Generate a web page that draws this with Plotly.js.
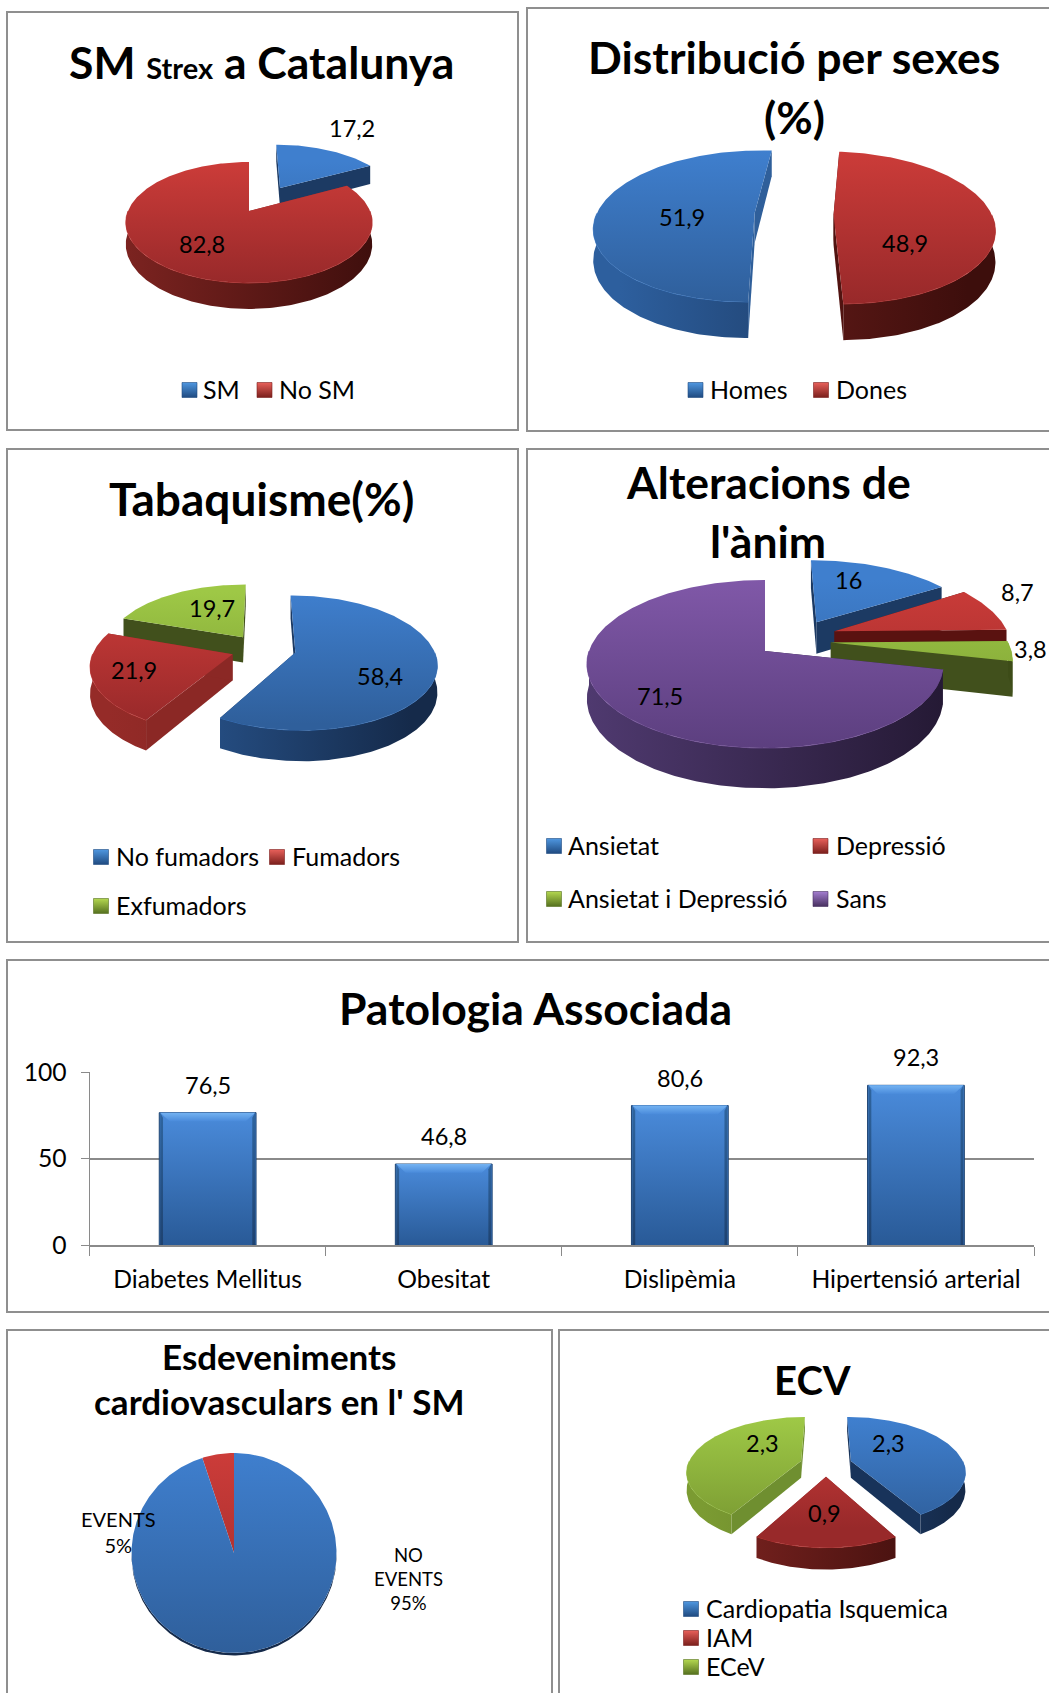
<!DOCTYPE html>
<html>
<head>
<meta charset="utf-8">
<title>Síndrome metabòlica</title>
<script src="https://cdn.plot.ly/plotly-3.0.1.min.js"></script>
<style>html,body{margin:0;padding:0;background:#fff;overflow:hidden}#page{width:1049px;height:1693px}</style>
</head>
<body>
<div id="page"></div>
<script>
// Values shown on each chart
const smLabels = ['SM', 'No SM'];
const smValues = [17.2, 82.8];
const sexLabels = ['Homes', 'Dones'];
const sexValues = [51.9, 48.9];
const smokeLabels = ['No fumadors', 'Fumadors', 'Exfumadors'];
const smokeValues = [58.4, 21.9, 19.7];
const moodLabels = ['Ansietat', 'Depressió', 'Ansietat i Depressió', 'Sans'];
const moodValues = [16, 8.7, 3.8, 71.5];
const pathologyLabels = ['Diabetes Mellitus', 'Obesitat', 'Dislipèmia', 'Hipertensió arterial'];
const pathologyValues = [76.5, 46.8, 80.6, 92.3];
const eventLabels = ['NO EVENTS', 'EVENTS'];
const eventValues = [95, 5];
const cvdLabels = ['Cardiopatia Isquemica', 'IAM', 'ECeV'];
const cvdValues = [2.3, 0.9, 2.3];

const FONT = 'Lato, "Open Sans", sans-serif';
const TEXT_SIZE = 23.5;
const LEGEND_SIZE = 25;
const AXIS_SIZE = 24.7;
const TITLE_SIZE = 44.5;

// Shading of the tilted slices
const palette = {
  blue:   {top: ['#3f7fce', '#2f5f9b'], rim: ['#2d5f9e', '#152a4a'], wall: '#1c3a63'},
  red:    {top: ['#cc3c39', '#98292a'], rim: ['#7e2421', '#3d0e0c'], wall: '#8b2825'},
  green:  {top: ['#9ec846', '#7a9a32'], rim: ['#7b9b32', '#3d4c18'], wall: '#41501c'},
  purple: {top: ['#8058a8', '#5c3f7f'], rim: ['#513b72', '#231832'], wall: '#2d2140'}
};
const swatch = {
  blue: ['#4f97e0', '#1f4a80'], red: ['#e8605a', '#7a1f1c'],
  green: ['#b4d850', '#55701f'], purple: ['#a47ed0', '#47305f']
};

const rad = d => d * Math.PI / 180;
const decimal = v => String(v).replace('.', ',');
const traces = [];
const annotations = [];

function addPoly(pts, fill, gradient) {
  const t = {
    x: pts.map(p => p[0]), y: pts.map(p => p[1]),
    xaxis: 'x', yaxis: 'y', type: 'scatter', mode: 'lines',
    line: {width: 0}, fill: 'toself', hoverinfo: 'skip', showlegend: false
  };
  if (gradient) t.fillgradient = gradient;
  else t.fillcolor = fill;
  traces.push(t);
}

// Slices on a disc seen in perspective: angles come from the values, clockwise from 12 o'clock.
function addTiltedPie(values, colors, p) {
  const total = values.reduce((a, b) => a + b, 0);
  const nearY = p.cy + p.ry / (1 - p.k), farY = p.cy - p.ry / (1 + p.k);
  let angle = p.first || 0;
  const slices = values.map((val, i) => {
    const a0 = angle, a1 = angle + val / total * 360;
    angle = a1;
    const mid = rad((a0 + a1) / 2), e = p.explode[i];
    const ou = e * Math.sin(mid), ov = -e * Math.cos(mid);
    const nudge = (p.nudge && p.nudge[i]) || [0, 0];
    return {a0, a1, ou, ov, nudge, color: colors[i], depth: ov - 0.6 * Math.cos(mid)};
  }).sort((a, b) => a.depth - b.depth);

  slices.forEach(sl => {
    const project = (u, v, h) => {
      const s = 1 / (1 - p.k * v);
      return [p.cx + sl.nudge[0] + p.rx * u * s, p.cy + sl.nudge[1] + p.ry * v * s + h * p.d * s];
    };
    const at = (deg, h) => project(sl.ou + Math.sin(rad(deg)), sl.ov - Math.cos(rad(deg)), h);
    const apex = h => project(sl.ou, sl.ov, h);
    const arc = (from, to, h) => {
      const out = [], n = Math.max(2, Math.ceil(Math.abs(to - from)));
      for (let j = 0; j <= n; j++) out.push(at(from + (to - from) * j / n, h));
      return out;
    };
    const shade = palette[sl.color];
    const wall = (p.walls && p.walls[sl.color]) || shade.wall;
    const rim = (p.rims && p.rims[sl.color]) || shade.rim;

    if (p.d > 4) {
      [sl.a0, sl.a1].forEach(a => addPoly([apex(0), at(a, 0), at(a, 1), apex(1)], wall));
    }
    [0, 360].forEach(shift => {
      const from = Math.max(sl.a0, 90 + shift), to = Math.min(sl.a1, 270 + shift);
      if (to <= from) return;
      const face = arc(from, to, 0).concat(arc(to, from, 1));
      if (p.d > 4) {
        addPoly(face, null, {
          type: 'horizontal', start: p.cx - p.rx * 1.1, stop: p.cx + p.rx * 1.1,
          colorscale: [[0, rim[0]], [1, rim[1]]]
        });
        const edge = arc(from, to, 0);
        traces.push({
          x: edge.map(q => q[0]), y: edge.map(q => q[1]), xaxis: 'x', yaxis: 'y',
          type: 'scatter', mode: 'lines', line: {width: 1, color: shade.top[0]},
          opacity: 0.75, hoverinfo: 'skip', showlegend: false
        });
      } else {
        addPoly(face, rim[1]);
      }
    });
    const face = [apex(0)].concat(arc(sl.a0, sl.a1, 0));
    addPoly(face, null, {
      type: 'vertical', start: farY, stop: nearY,
      colorscale: [[0, shade.top[0]], [1, shade.top[1]]]
    });
  });
}

function addText(text, x, y, size, opts) {
  annotations.push(Object.assign({
    text, x, y, xref: 'x', yref: 'y', showarrow: false, borderpad: 0,
    xanchor: 'center', yanchor: 'middle',
    font: {family: FONT, size, color: '#000'}
  }, opts || {}));
}
const addTitle = (text, x, y, size) => addText('<b>' + text + '</b>', x, y, size || TITLE_SIZE);

// Value labels use the same numbers the slices are drawn from
function addValueLabels(values, places) {
  values.forEach((v, i) => addText(decimal(v), places[i][0], places[i][1], TEXT_SIZE));
}

// Bevelled legend squares with their text alongside
function addLegend(labels, colors, places) {
  traces.push({
    x: places.map(q => q[0]), y: places.map(q => q[2]), xaxis: 'x', yaxis: 'y',
    type: 'scatter', mode: 'markers', hoverinfo: 'skip', showlegend: false,
    marker: {
      symbol: 'square', size: 15, color: colors.map(c => swatch[c][0]),
      gradient: {type: 'vertical', color: colors.map(c => swatch[c][1])},
      line: {width: 0.6, color: colors.map(c => swatch[c][1])}
    }
  });
  labels.forEach((l, i) => addText(l, places[i][1] - 1, places[i][2] - 1, LEGEND_SIZE, {xanchor: 'left'}));
}

// --- SM Strex a Catalunya ---
addTiltedPie(smValues, ['blue', 'red'], {
  cx: 249, cy: 211, rx: 121, ry: 58.3, k: 0.19, d: 21, explode: [0.43, 0],
  nudge: [[6, -3], [0, 0]]
});
addValueLabels(smValues, [[352, 128], [202, 244]]);
addTitle('SM <span style="font-size:29px">Strex</span> a Catalunya', 261, 61);
addLegend(smLabels, ['blue', 'red'], [[189.5, 203, 390], [264.5, 279, 390]]);

// --- Distribució per sexes ---
addTiltedPie(sexValues, ['blue', 'red'], {
  cx: 794, cy: 214, rx: 158, ry: 73.8, k: 0.17, d: 30, first: 179.5, explode: [0.25, 0.25],
  walls: {blue: '#2f5f9a', red: '#511310'}
});
addValueLabels(sexValues, [[682, 217], [905, 243]]);
addTitle('Distribució per sexes', 794, 56);
addTitle('(%)', 794, 116);
addLegend(sexLabels, ['blue', 'red'], [[695.5, 710, 390], [821, 836, 390]]);

// --- Tabaquisme ---
addTiltedPie(smokeValues, ['blue', 'red', 'green'], {
  cx: 260, cy: 648, rx: 138, ry: 64.5, k: 0.15, d: 26, explode: [0.27, 0.27, 0.27],
  nudge: [[-1, 0], [8, 0], [4, 3]],
  rims: {red: ['#952b28', '#6f1f1c']}
});
addValueLabels(smokeValues, [[380, 676], [134, 670], [212, 608]]);
addTitle('Tabaquisme(%)', 261, 498, 46);
addLegend(smokeLabels, ['blue', 'red', 'green'], [[101, 116, 857], [277, 292, 857], [101, 116, 906]]);

// --- Alteracions de l'ànim ---
addTiltedPie(moodValues, ['blue', 'red', 'green', 'purple'], {
  cx: 765, cy: 651, rx: 176, ry: 82, k: 0.155, d: 34, explode: [0.55, 0.42, 0.43, 0],
  nudge: [[8, 8], [0, -10], [-10, -12], [0, 0]],
  walls: {red: '#5a1210'}
});
addValueLabels(moodValues, [[848, 580], [1017, 592], [1030, 649], [660, 696]]);
addTitle('Alteracions de', 768, 481);
addTitle("l'ànim", 768, 540);
addLegend(moodLabels, ['blue', 'red', 'green', 'purple'],
  [[554, 568, 846], [820.5, 836, 846], [554, 568, 899], [820.5, 836, 899]]);

// --- Patologia Associada: columns with a bevelled face over the bar trace ---
addTitle('Patologia Associada', 535, 1007);
const halfBar = 0.205;
pathologyValues.forEach((v, i) => {
  const overlay = (pts, colors, y0, y1) => traces.push({
    x: pts.map(q => q[0]), y: pts.map(q => q[1]), xaxis: 'x3', yaxis: 'y2',
    type: 'scatter', mode: 'lines', line: {width: 0}, fill: 'toself', hoverinfo: 'skip', showlegend: false,
    fillgradient: {type: 'vertical', start: y0, stop: y1, colorscale: [[0, colors[0]], [1, colors[1]]]}
  });
  const l = i - halfBar + 0.004, r = i + halfBar - 0.004;
  overlay([[l, 0], [l, v], [r, v], [r, 0]], ['#4a8bdb', '#295a97'], v, 0);
  overlay([[l, v], [r, v], [r - 0.04, v - 5], [l + 0.04, v - 5]], ['#74b3f2', '#4a8bdb'], v, v - 5);
  overlay([[l, 0], [l, v], [l + 0.012, v - 3], [l + 0.012, 0]], ['#2f659f', '#1e4270'], v, 0);
  overlay([[r, 0], [r, v], [r - 0.012, v - 3], [r - 0.012, 0]], ['#2f659f', '#1e4270'], v, 0);
});
traces.unshift({
  type: 'bar', x: pathologyLabels, y: pathologyValues, xaxis: 'x2', yaxis: 'y2',
  width: 0.41, marker: {color: '#3a72b8', line: {color: '#1f4573', width: 1}},
  hoverinfo: 'skip', showlegend: false
});
pathologyValues.forEach((v, i) => annotations.push({
  text: decimal(v), x: pathologyLabels[i], y: v, xref: 'x2', yref: 'y2',
  yshift: 28, showarrow: false, xanchor: 'center', yanchor: 'middle',
  font: {family: FONT, size: TEXT_SIZE, color: '#000'}
}));

// --- Esdeveniments cardiovasculars ---
addTiltedPie(eventValues, ['blue', 'red'], {cx: 234, cy: 1553, rx: 102.5, ry: 100, k: 0, d: 2.5, explode: [0, 0]});
addTitle('Esdeveniments', 279, 1356, 35);
addTitle("cardiovasculars en l' SM", 279, 1401, 35);
addText('EVENTS<br>' + eventValues[1] + '%', 118, 1532, 20);
addText('NO<br>EVENTS<br>' + eventValues[0] + '%', 408, 1579, 18.5);

// --- ECV ---
addTiltedPie(cvdValues, ['blue', 'red', 'green'], {
  cx: 826, cy: 1464, rx: 113, ry: 53, k: 0.18, d: 17, explode: [0.23, 0.23, 0.23],
  walls: {green: '#6f8f30', blue: '#18335a'}, rims: {green: ['#7b9b32', '#5a7024']}
});
addValueLabels(cvdValues, [[888, 1443], [824, 1513], [762, 1443]]);
addTitle('ECV', 812, 1380, 40);
addLegend(cvdLabels, ['blue', 'red', 'green'], [[691, 706, 1609], [691, 706, 1638], [691, 706, 1667]]);

// Chart frames, several of them running off the page
const frame = (x0, y0, x1, y1) => ({
  type: 'rect', xref: 'x', yref: 'y', x0, y0, x1, y1, layer: 'below',
  line: {color: '#8f8f8f', width: 2}, fillcolor: 'rgba(0,0,0,0)'
});
const frames = [
  frame(7, 12, 518, 430), frame(527, 8, 1060, 431),
  frame(7, 449, 518, 942), frame(527, 449, 1060, 942),
  frame(7, 960, 1060, 1312),
  frame(7, 1330, 552, 1710), frame(559, 1330, 1060, 1710)
];

const PAGE_W = 1049, PAGE_H = 1693;
const barX = [89.6 / PAGE_W, 1034 / PAGE_W];
const barY = [1 - 1245 / PAGE_H, 1 - 1072 / PAGE_H];

const layout = {
  width: PAGE_W, height: PAGE_H, margin: {l: 0, r: 0, t: 0, b: 0},
  paper_bgcolor: '#fff', plot_bgcolor: 'rgba(0,0,0,0)',
  font: {family: FONT, size: TEXT_SIZE, color: '#000'},
  showlegend: false, barmode: 'overlay',
  xaxis: {range: [0, PAGE_W], domain: [0, 1], visible: false, fixedrange: true},
  yaxis: {range: [PAGE_H, 0], domain: [0, 1], visible: false, fixedrange: true},
  xaxis2: {
    domain: barX, anchor: 'y2', type: 'category', categoryorder: 'array', categoryarray: pathologyLabels,
    tickson: 'boundaries', ticks: 'outside', ticklen: 9, tickcolor: '#8a8a8a', tickwidth: 1,
    showline: true, linecolor: '#8a8a8a', linewidth: 1.5, showgrid: false, zeroline: false,
    ticklabelstandoff: 12, tickfont: {family: FONT, size: AXIS_SIZE, color: '#000'}, fixedrange: true
  },
  xaxis3: {domain: barX, anchor: 'y2', overlaying: 'x2', range: [-0.5, 3.5], visible: false, fixedrange: true},
  yaxis2: {
    domain: barY, anchor: 'x2', range: [0, 100], tickvals: [0, 50, 100],
    ticks: 'outside', ticklen: 8, tickcolor: '#8a8a8a', tickwidth: 1,
    showline: true, linecolor: '#8a8a8a', linewidth: 1, showgrid: true, gridcolor: '#8a8a8a', gridwidth: 2,
    zeroline: false, ticklabelstandoff: 9, tickfont: {family: FONT, size: AXIS_SIZE, color: '#000'}, fixedrange: true
  },
  shapes: frames,
  annotations
};

Plotly.newPlot('page', traces, layout, {displayModeBar: false, staticPlot: true});
</script>
</body>
</html>
